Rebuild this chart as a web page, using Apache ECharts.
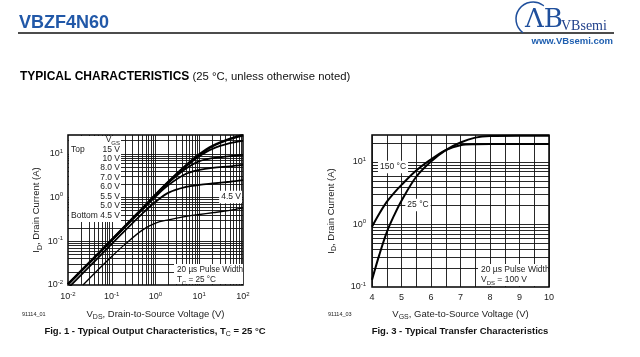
<!DOCTYPE html>
<html><head><meta charset="utf-8">
<script src="https://cdn.jsdelivr.net/npm/echarts@6/dist/echarts.min.js"></script>
<style>html,body{margin:0;padding:0;background:#fff}#c{width:640px;height:357px}</style>
</head><body><div id="c"></div>
<script>
// ---- Fig. 1 data: Output characteristics (log-log) ----
const vdsPoints = [0.01, 0.02, 0.05, 0.1, 0.2, 0.5, 1, 2, 5, 10, 20, 50, 100];
const id15V = [0.0105, 0.021, 0.053, 0.108, 0.22, 0.56, 1.15, 2.3, 5.4, 9.6, 15, 22, 26.8];
const id10V = [0.0105, 0.021, 0.053, 0.108, 0.22, 0.56, 1.15, 2.3, 5.2, 8.8, 13, 17.5, 19.8];
const id8V  = [0.0105, 0.021, 0.053, 0.107, 0.22, 0.55, 1.12, 2.2, 4.6, 6.8, 8.0, 8.9, 9.5];
const id7V  = [0.0103, 0.021, 0.052, 0.105, 0.21, 0.53, 1.05, 1.95, 3.5, 4.3, 4.8, 5.2, 5.6];
const id6V  = [0.0085, 0.017, 0.043, 0.087, 0.175, 0.43, 0.8, 1.3, 1.75, 1.95, 2.1, 2.3, 2.5];
const vds45 = [0.022, 0.05, 0.1, 0.2, 0.5, 1, 2, 5, 10, 20, 50, 100];
const id45V = [0.01, 0.023, 0.045, 0.085, 0.18, 0.26, 0.31, 0.37, 0.41, 0.45, 0.51, 0.58];
const vgsLegend = ['15 V', '10 V', '8.0 V', '7.0 V', '6.0 V', '5.5 V', '5.0 V', '4.5 V'];

// ---- Fig. 3 data: Transfer characteristics ----
const vgsPoints = [4, 4.25, 4.5, 4.75, 5, 5.5, 6, 6.5, 7, 7.5, 8, 9, 10];
const id25C  = [0.13, 0.33, 0.75, 1.4, 2.4, 5.8, 10.2, 15.5, 20.5, 24.5, 26, 26.3, 26.3];
const id150C = [0.92, 1.5, 2.3, 3.2, 4.3, 7.3, 11, 15.5, 18.5, 19.2, 19.3, 19.3, 19.3];
const vgsTicks = [4, 5, 6, 7, 8, 9, 10];

const FONT = '"Liberation Sans", Arial, sans-serif';
const pair = (xs, ys) => xs.map((x, i) => [x, ys[i]]);

function logGridValues(lo, hi) {
  const out = [];
  for (let e = Math.floor(Math.log10(lo)); e <= Math.ceil(Math.log10(hi)); e++) {
    for (let m = 1; m < 10; m++) {
      const v = +(m * Math.pow(10, e)).toPrecision(6);
      if (v > lo * 1.0001 && v < hi * 0.9999) out.push(v);
    }
  }
  return out;
}
const supFmt = v => {
  const e = Math.log10(v), r = Math.round(e);
  if (Math.abs(e - r) > 1e-6) return '';
  return '10{s|' + r + '}';
};
const supRich = { s: { fontSize: 6, verticalAlign: 'top', lineHeight: 12, fontFamily: FONT, color: '#222' } };
const gridLine = { color: '#111', width: 0.9, type: 'solid' };

const chart = echarts.init(document.getElementById('c'), null, { renderer: 'canvas' });

function curve(name, data, xi, w) {
  return {
    name, type: 'line', data, xAxisIndex: xi, yAxisIndex: xi,
    showSymbol: false, smooth: 0.35, z: 10, silent: true,
    lineStyle: { color: '#000', width: w }
  };
}
function gridSeries(xi, xs, ys) {
  return {
    type: 'line', xAxisIndex: xi, yAxisIndex: xi, data: [], silent: true,
    markLine: {
      silent: true, symbol: 'none', animation: false, label: { show: false },
      lineStyle: gridLine,
      data: xs.map(v => ({ xAxis: v })).concat(ys.map(v => ({ yAxis: v })))
    }
  };
}

const sub = (t) => '{s|' + t + '}';
const subRich = (fs) => ({ s: { fontSize: fs - 2.5, verticalAlign: 'bottom', lineHeight: fs + 4, fontFamily: FONT, color: '#222' } });

function txt(x, y, text, opt) {
  opt = opt || {};
  const fs = opt.fontSize || 8.5;
  return {
    type: 'text', x, y, z: opt.z || 8, silent: true,
    style: {
      text, fontSize: fs, fontFamily: opt.fontFamily || FONT, fontWeight: opt.fontWeight || 'normal',
      fill: opt.fill || '#222', align: opt.align || 'left', verticalAlign: opt.va || 'middle',
      lineHeight: fs + 4, rich: opt.rich || subRich(fs),
      backgroundColor: opt.bg, padding: opt.pad
    }
  };
}
function rect(x, y, w, h) {
  return { type: 'rect', z: 7, silent: true, shape: { x, y, width: w, height: h }, style: { fill: '#fff' } };
}

const legendYs = [150, 159, 168, 178, 187, 197, 206, 216];
const graphics = [
  // header
  txt(19, 23, 'VBZF4N60', { fontSize: 18, fontWeight: 'bold', fill: '#2158a8' }),
  { type: 'line', z: 8, shape: { x1: 18, y1: 33, x2: 614, y2: 33 }, style: { stroke: '#111', lineWidth: 1.5 } },
  { type: 'arc', z: 8, shape: { cx: 533, cy: 19, r: 17, startAngle: 2.2, endAngle: 5.4 }, style: { stroke: '#1f4f9c', lineWidth: 1.5, fill: null } },
  txt(525, 20, 'ΛB', { fontSize: 26, fill: '#1f4f9c', fontFamily: '"DejaVu Serif", serif' }),
  txt(561, 26, 'VBsemi', { fontSize: 14, fill: '#1f3f8a', fontFamily: '"Liberation Serif", serif' }),
  txt(613, 41, 'www.VBsemi.com', { fontSize: 9.5, fontWeight: 'bold', fill: '#1f5fb0', align: 'right' }),
  {
    type: 'text', x: 20, y: 77, z: 8, silent: true,
    style: {
      text: '{b|TYPICAL CHARACTERISTICS} (25 °C, unless otherwise noted)',
      fontSize: 11.3, fontFamily: FONT, fill: '#111', verticalAlign: 'middle',
      rich: { b: { fontSize: 12, fontWeight: 'bold', fontFamily: FONT, fill: '#000' } }
    }
  },
  // Fig 1 legend box
  rect(69, 136, 52, 86),
  txt(120, 140, 'V' + sub('GS'), { align: 'right' }),
  txt(71, 150, 'Top'),
  txt(71, 216, 'Bottom'),
  ...vgsLegend.map((t, i) => txt(120, legendYs[i], t, { align: 'right' })),
  txt(242, 197, '4.5 V', { align: 'right', bg: '#fff', pad: [0, 1, 0, 2] }),
  rect(174, 264, 69, 20),
  txt(177, 270, '20 µs Pulse Width', { fontSize: 8.2 }),
  txt(177, 280, 'T' + sub('C') + ' = 25 °C', { fontSize: 8.2 }),
  txt(22, 314, '91114_01', { fontSize: 5.5 }),
  txt(155, 331, 'Fig. 1 - Typical Output Characteristics, T' + sub('C') + ' = 25 °C', { fontSize: 9.5, fontWeight: 'bold', align: 'center', fill: '#111' }),
  // Fig 3 annotations
  txt(393, 167, '150 °C', { align: 'center', bg: '#fff', pad: [0, 2, 0, 2] }),
  txt(418, 205, '25 °C', { align: 'center', bg: '#fff', pad: [0, 2, 0, 2] }),
  rect(478, 264, 70, 22),
  txt(481, 270, '20 µs Pulse Width'),
  txt(481, 280, 'V' + sub('DS') + ' = 100 V'),
  txt(328, 314, '91114_03', { fontSize: 5.5 }),
  txt(460, 331, 'Fig. 3 - Typical Transfer Characteristics', { fontSize: 9.5, fontWeight: 'bold', align: 'center', fill: '#111' })
];

const axisNameStyle = { fontSize: 9.5, fontFamily: FONT, color: '#222', rich: { s: { fontSize: 7, verticalAlign: 'bottom', lineHeight: 14, fontFamily: FONT, color: '#222' } } };
const labelStyle = { fontSize: 9, fontFamily: FONT, color: '#222' };

const option = {
  animation: false,
  backgroundColor: '#fff',
  grid: [
    { left: 68, top: 135, width: 175, height: 150, show: true, borderColor: '#000', borderWidth: 1.5, backgroundColor: 'transparent' },
    { left: 372, top: 135, width: 177, height: 152, show: true, borderColor: '#000', borderWidth: 1.5, backgroundColor: 'transparent' }
  ],
  xAxis: [
    {
      type: 'log', gridIndex: 0, min: 0.01, max: 100, logBase: 10,
      axisLine: { show: false }, axisTick: { show: false }, splitLine: { show: false },
      axisLabel: { ...labelStyle, margin: 6, formatter: supFmt, rich: supRich },
      name: 'V' + sub('DS') + ', Drain-to-Source Voltage (V)', nameLocation: 'middle', nameGap: 22,
      nameTextStyle: axisNameStyle
    },
    {
      type: 'value', gridIndex: 1, min: 4, max: 10, interval: 1,
      axisLine: { show: false }, axisTick: { show: false },
      splitLine: { show: true, lineStyle: gridLine },
      minorTick: { show: false, splitNumber: 2 },
      minorSplitLine: { show: true, lineStyle: gridLine },
      axisLabel: { ...labelStyle, margin: 6, formatter: v => vgsTicks.includes(v) ? String(v) : '' },
      name: 'V' + sub('GS') + ', Gate-to-Source Voltage (V)', nameLocation: 'middle', nameGap: 20,
      nameTextStyle: axisNameStyle
    }
  ],
  yAxis: [
    {
      type: 'log', gridIndex: 0, min: 0.01, max: 27, logBase: 10,
      axisLine: { show: false }, axisTick: { show: false }, splitLine: { show: false },
      axisLabel: { ...labelStyle, margin: 5, formatter: supFmt, rich: supRich },
      name: 'I' + sub('D') + ', Drain Current (A)', nameLocation: 'middle', nameGap: 24,
      nameTextStyle: axisNameStyle
    },
    {
      type: 'log', gridIndex: 1, min: 0.1, max: 27, logBase: 10,
      axisLine: { show: false }, axisTick: { show: false }, splitLine: { show: false },
      axisLabel: { ...labelStyle, margin: 6, formatter: supFmt, rich: supRich },
      name: 'I' + sub('D') + ', Drain Current (A)', nameLocation: 'middle', nameGap: 34,
      nameTextStyle: axisNameStyle
    }
  ],
  graphic: graphics,
  series: [
    gridSeries(0, logGridValues(0.01, 100), logGridValues(0.01, 27)),
    gridSeries(1, [], logGridValues(0.1, 27)),
    curve('15 V', pair(vdsPoints, id15V), 0, 2.6),
    curve('10 V', pair(vdsPoints, id10V), 0, 1.8),
    curve('8.0 V', pair(vdsPoints, id8V), 0, 1.8),
    curve('7.0 V', pair(vdsPoints, id7V), 0, 1.8),
    curve('6.0 V', pair(vdsPoints, id6V), 0, 1.8),
    curve('4.5 V', pair(vds45, id45V), 0, 1.3),
    curve('25 °C', pair(vgsPoints, id25C), 1, 2),
    curve('150 °C', pair(vgsPoints, id150C), 1, 2)
  ]
};
chart.setOption(option);
</script></body></html>
